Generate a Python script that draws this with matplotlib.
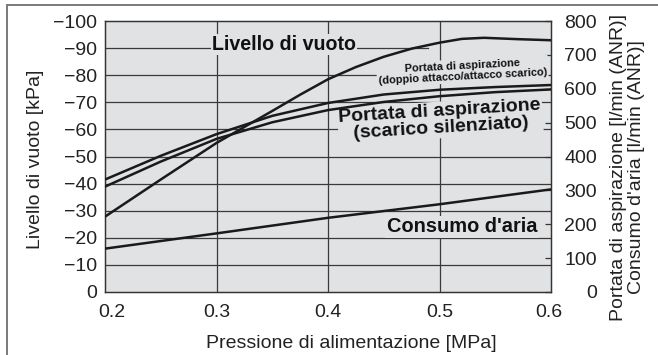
import matplotlib
matplotlib.use("Agg")
import matplotlib.pyplot as plt
from matplotlib import font_manager
from matplotlib.patches import Rectangle
from matplotlib.transforms import ScaledTranslation

# ---------------- data ----------------
vac_p = [0.2, 0.25, 0.3, 0.35, 0.375, 0.4, 0.425, 0.45, 0.475, 0.5, 0.52, 0.54, 0.57, 0.6]
vacuum_kpa = [-27.8, -41.5, -55.0, -66.8, -72.8, -78.5, -83.0, -86.8, -89.8, -92.0,
              -93.4, -93.8, -93.3, -92.9]

flow_p = [0.2, 0.25, 0.3, 0.35, 0.4, 0.45, 0.5, 0.55, 0.6]
flow_double = [332, 402, 466, 520, 558, 583, 597, 605, 611]
flow_silenced = [311, 385, 452, 501, 537, 561, 578, 590, 598]

cons_p = [0.2, 0.3, 0.4, 0.5, 0.6]
air_consumption = [128, 173, 219, 259, 303]

x_ticks = [0.2, 0.3, 0.4, 0.5, 0.6]
x_tick_labels = ["0.2", "0.3", "0.4", "0.5", "0.6"]
left_ticks = [0, -10, -20, -30, -40, -50, -60, -70, -80, -90, -100]
right_ticks = [0, 100, 200, 300, 400, 500, 600, 700, 800]

# ---------------- style ----------------
names = {f.name for f in font_manager.fontManager.ttflist}
plt.rcParams['font.family'] = ['Liberation Sans', 'DejaVu Sans']
narrow = 'Liberation Sans Narrow' if 'Liberation Sans Narrow' in names else None

BG = '#e1e2e4'
GRID = '#3a3a3a'
LINE = '#1a1a1a'

fig = plt.figure(figsize=(6.58, 3.55), dpi=100)
W, H = 658, 355
ax = fig.add_axes([105 / W, 1 - 292 / H, (551 - 105) / W, (292 - 21) / H])
ax.set_facecolor(BG)
ax.set_xlim(0.2, 0.6)
ax.set_ylim(0, -100)

ax2 = ax.twinx()
ax2.set_ylim(0, 800)

# grid lines (drawn manually so that the -90 one stops at the curve)
for v in left_ticks[1:-1]:
    xmax = 0.725 if v == -90 else 1.0
    ax.axhline(v, xmin=0, xmax=xmax, color=GRID, lw=0.9, zorder=1)
for p in x_ticks[1:-1]:
    ax.axvline(p, color=GRID, lw=0.9, zorder=1)

for s in list(ax.spines.values()) + list(ax2.spines.values()):
    s.set_color('#333333')
    s.set_linewidth(0.9)

ax.set_xticks(x_ticks)
ax.set_xticklabels(x_tick_labels)
ax.set_yticks(left_ticks)
ax.tick_params(axis='x', length=0, pad=8.5, labelsize=14, colors='#222222')
ax.tick_params(axis='y', length=0, pad=5.5, labelsize=14, colors='#222222')
ax2.set_yticks(right_ticks)
ax2.tick_params(axis='y', direction='in', length=4.5, width=0.9, color='#333333',
                pad=33, labelsize=14, labelcolor='#222222')
for lab in ax2.get_yticklabels():
    lab.set_horizontalalignment('right')

# nudge end x labels inward as in the reference
xl = ax.get_xticklabels()
xl[0].set_transform(xl[0].get_transform() + ScaledTranslation(7 / 100, 0, fig.dpi_scale_trans))
xl[-1].set_transform(xl[-1].get_transform() + ScaledTranslation(-2.5 / 100, 0, fig.dpi_scale_trans))

# ---------------- curves ----------------
kw = dict(color=LINE, lw=1.8, zorder=4, solid_joinstyle='round', solid_capstyle='butt')
ax2.plot(vac_p, vacuum_kpa, transform=ax.transData, **kw)
ax2.plot(flow_p, flow_double, **kw)
ax2.plot(flow_p, flow_silenced, **kw)
ax2.plot(cons_p, air_consumption, **kw)

# ---------------- labels ----------------
box = dict(facecolor=BG, edgecolor='none', pad=1.0)
ax2.text(0.296, -89.3, "Livello di vuoto", transform=ax.transData, fontsize=14.1,
         fontweight='bold', ha='left', va='baseline', bbox=box, zorder=3, color='#111111')

if narrow:
    ax2.text(0.5205, -81.5, "Portata di aspirazione\n(doppio attacco/attacco scarico)",
             transform=ax.transData, fontsize=9.5, fontweight='bold', family=[narrow, 'DejaVu Sans'],
             ha='center', va='center', rotation=3, rotation_mode='anchor', linespacing=1.05,
             bbox=box, zorder=3, color='#111111')
else:
    ax2.text(0.5205, -81.5, "Portata di aspirazione\n(doppio attacco/attacco scarico)",
             transform=ax.transData, fontsize=7.9, fontweight='bold',
             ha='center', va='center', rotation=3, rotation_mode='anchor', linespacing=1.1,
             bbox=box, zorder=3, color='#111111')

ax2.text(0.5007, -63.5, "Portata di aspirazione\n(scarico silenziato)",
         transform=ax.transData, fontsize=14, fontweight='bold',
         ha='center', va='center', rotation=3.5, rotation_mode='anchor', linespacing=1.0,
         bbox=box, zorder=3, color='#111111')

ax2.text(0.5878, -22.0, "Consumo d'aria", transform=ax.transData, fontsize=14.4,
         fontweight='bold', ha='right', va='baseline', bbox=box, zorder=3, color='#111111')

# axis titles
fig.text(35.7 / W, 1 - 159 / H, "Livello di vuoto [kPa]", rotation=90, ha='center',
         va='center', fontsize=14, color='#222222')
fig.text(351 / W, 1 - 347.7 / H, "Pressione di alimentazione [MPa]", ha='center',
         va='baseline', fontsize=14, color='#222222')
fig.text(627.5 / W, 1 - 167.5 / H,
         "Portata di aspirazione [l/min (ANR)]\nConsumo d'aria [l/min (ANR)]",
         rotation=90, ha='center', va='center', multialignment='center',
         fontsize=14, linespacing=1.05, color='#222222')

# outer frame
fig.patches.append(Rectangle((7 / W, -0.1), 1.2, 1.1 - 5 / H, transform=fig.transFigure,
                             fill=False, edgecolor='#7a7a7a', lw=1.4, zorder=0))

fig.savefig("out.png", dpi=100)
